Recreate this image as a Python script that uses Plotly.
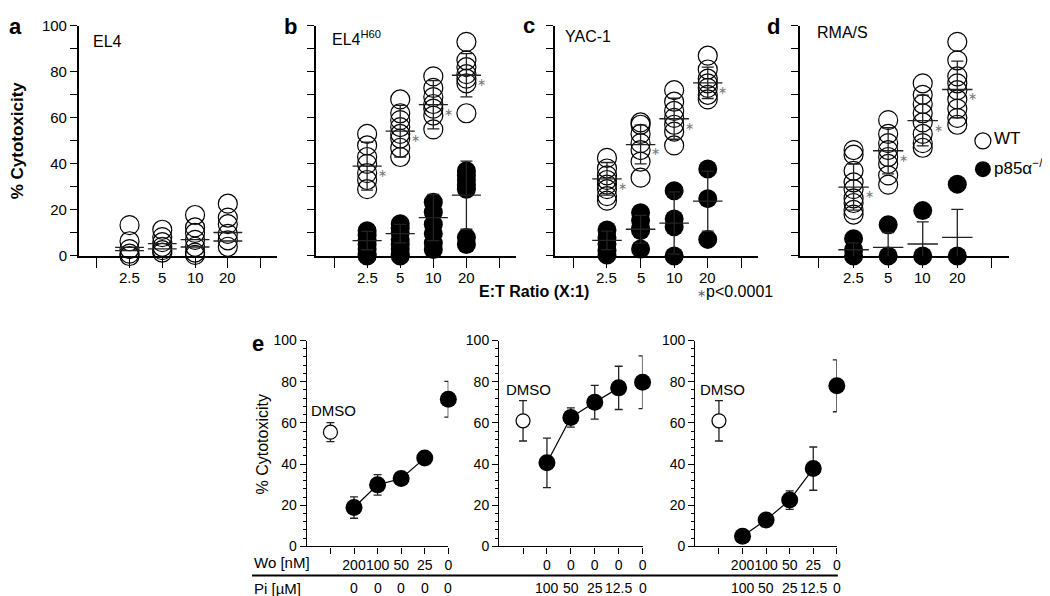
import plotly.graph_objects as go

FONT = "Liberation Sans, Arial, sans-serif"
W, H = 1050, 596

ratio_labels = ["2.5", "5", "10", "20"]

# a: EL4 (WT points; KO sits underneath, only its mean lines show)
el4_wt = [[13.4, 6.4, 3.0, 1.0, 0.0], [11.4, 8.2, 6.0, 4.0, 2.5, 1.5],
          [17.8, 12.4, 10.0, 7.0, 4.0, 1.5, 0.5], [22.7, 16.7, 13.8, 9.6, 6.8, 4.0]]
el4_wt_mean = [3.7, 5.4, 7.1, 10.2]
el4_ko_mean = [2.3, 3.1, 3.9, 6.5]

# b: EL4 H60
h60_wt = [[53, 48, 43, 40, 36, 33, 29], [68, 62, 59, 56, 53, 51, 47, 43],
          [78, 73, 69, 66, 64, 61, 55], [93, 85, 82, 79, 77, 75, 62]]
h60_wt_mean = [39.0, 54.2, 65.7, 78.5]
h60_wt_sd = [10.4, 11.2, 10.5, 9.4]
h60_ko = [[11, 9, 7, 5, 3, 1, 0], [14, 12, 10, 7, 5, 3, 1, 0],
          [23.3, 19, 13.8, 9.7, 5.6, 2.8], [37, 35, 33, 31, 29, 8, 5]]
h60_ko_mean = [6.7, 9.7, 16.7, 26.4]
h60_ko_sd = [4.0, 4.0, 10.0, 14.8]

# c: YAC-1
yac_wt = [[42.6, 38, 35, 33, 31, 29, 26, 24], [58, 57, 53, 49, 46, 41, 34],
          [72, 67, 63, 60, 57, 54, 48], [87, 81, 77, 75, 73, 70, 68]]
yac_wt_mean = [33.5, 48.4, 59.6, 75.2]
yac_wt_sd = [7.1, 8.4, 8.9, 6.8]
yac_ko = [[11.3, 7.9, 5.2, 2.4, 0.4], [18.8, 15.4, 12, 11, 3],
          [28.3, 16.1, 12.7, 0], [37.8, 24.9, 7.2]]
yac_ko_mean = [6.8, 11.6, 14.3, 23.8]
yac_ko_sd = [4.0, 6.0, 13.5, 13.0]

# d: RMA/S
rma_wt = [[46, 44, 37, 32, 29, 25, 23, 20, 18], [59, 53, 49, 46, 43, 40, 35, 31],
          [75, 70, 66, 62, 58, 53, 49, 47], [93, 85, 78, 75, 72, 68, 64, 60, 57]]
rma_wt_mean = [29.9, 45.7, 58.8, 72.3]
rma_wt_sd = [10.0, 10.0, 11.0, 12.3]
rma_ko = [[7.5, 2.7, 0], [13.6, 0], [19.7, 0], [31.2, 0]]
rma_ko_mean = [2.7, 3.7, 5.2, 8.1]
rma_ko_sd = [3.0, 6.5, 9.6, 12.1]

# e: inhibitor titrations
wo_labels = [["", "200", "100", "50", "25", "0"],
             ["", "0", "0", "0", "0", "0"],
             ["", "200", "100", "50", "25", "0"]]
pi_labels = [["0", "0", "0", "0", "0"],
             ["100", "50", "25", "12.5", "0"],
             ["100", "50", "25", "12.5", "0"]]
dmso_mean = [55.5, 61.0, 61.0]
dmso_sd = [4.6, 9.8, 9.8]
inhib_mean = [[18.9, 29.9, 33.0, 42.9, 71.5],
              [40.6, 62.6, 70.0, 77.0, 79.7],
              [5.0, 12.9, 22.5, 37.8, 78.0]]
inhib_sd = [[5.2, 5.0, 1.5, 1.5, 8.7],
            [12.0, 4.7, 8.2, 10.5, 12.8],
            [1.5, 1.5, 4.5, 10.5, 12.6]]


def px(x0, x1):
    return [x0 / W, x1 / W]


def py(top, bottom):
    return [1 - bottom / H, 1 - top / H]


top_dom_x = [px(71, 270), px(309, 510), px(549, 753), px(795, 1005)]
top_dom_y = py(9, 246)
bot_dom_x = [px(300, 442), px(493, 637), px(690, 832)]
bot_dom_y = py(333, 545)

fig = go.Figure()
layout = dict(width=W, height=H, margin=dict(l=0, r=0, t=0, b=0),
              plot_bgcolor="white", paper_bgcolor="white", showlegend=False,
              font=dict(family=FONT, color="black"))
annots = []


def label(text, x, y, size=15, xanchor="center", **kw):
    # text placed by pixel position on the page
    annots.append(dict(x=x / W, y=1 - y / H, xref="paper", yref="paper", text=text,
                       xanchor=xanchor, yanchor="middle", showarrow=False,
                       font=dict(size=size), **kw))


def ax_name(i, kind):
    return kind + ("" if i == 1 else str(i))


def mean_lines(means, half=0.44):
    xs, ys = [], []
    for k, m in enumerate(means):
        xs += [k + 1 - half, k + 1 + half, None]
        ys += [m, m, None]
    return xs, ys


def points(groups):
    xs, ys = [], []
    for k, g in enumerate(groups):
        xs += [k + 1] * len(g)
        ys += g
    return xs, ys


def add_top(i, wt, wt_mean, wt_sd, ko, ko_mean, ko_sd, star):
    xa, ya = "x" + ("" if i == 1 else str(i)), "y" + ("" if i == 1 else str(i))
    if ko:
        x, y = points(ko)
        fig.add_trace(go.Scatter(x=x, y=y, mode="markers", xaxis=xa, yaxis=ya, cliponaxis=False,
                                 marker=dict(size=19, color="black", line=dict(width=0))))
    x, y = points(wt)
    fig.add_trace(go.Scatter(x=x, y=y, mode="markers", xaxis=xa, yaxis=ya, cliponaxis=False,
                             marker=dict(size=19, color="rgba(0,0,0,0)",
                                         line=dict(width=1.2, color="black"))))
    for m, sd in ((wt_mean, wt_sd), (ko_mean, ko_sd)):
        if sd:
            fig.add_trace(go.Scatter(x=[1, 2, 3, 4], y=m, mode="markers", xaxis=xa, yaxis=ya,
                                     cliponaxis=False, marker=dict(size=1, color="rgba(0,0,0,0)"),
                                     error_y=dict(type="data", array=sd, color="#222",
                                                  thickness=1.3, width=6)))
        x, y = mean_lines(m)
        fig.add_trace(go.Scatter(x=x, y=y, mode="lines", xaxis=xa, yaxis=ya, cliponaxis=False,
                                 line=dict(color="#222", width=1.3)))
    if star:
        for k, m in enumerate(wt_mean):
            annots.append(dict(x=k + 1.45, y=m - 3, xref=xa, yref=ya, text="\u2217",
                               showarrow=False, font=dict(size=11, color="#777")))
    # category labels under the axis
    for k, t in enumerate(ratio_labels):
        annots.append(dict(x=k + 1, y=1 - 268 / H, xref=xa, yref="paper", text=t,
                           xanchor="center", yanchor="middle", showarrow=False,
                           font=dict(size=15)))
    layout[ax_name(i, "xaxis")] = dict(
        domain=top_dom_x[i - 1], anchor=ya, range=[-0.55, 5.5],
        tickvals=[0, 1, 2, 3, 4, 5], showticklabels=False,
        ticks="outside", ticklen=10, tickwidth=1.3, tickcolor="black",
        showline=True, linecolor="black", linewidth=1.5, showgrid=False, zeroline=False)
    layout[ax_name(i, "yaxis")] = dict(
        domain=top_dom_y, anchor=xa, range=[0, 100], tickvals=[0, 20, 40, 60, 80, 100],
        showticklabels=(i == 1), ticks="outside", ticklen=7, tickwidth=1.3, tickcolor="black",
        minor=dict(dtick=10, ticks="outside", ticklen=7, tickwidth=1.3, tickcolor="black"),
        showline=True, linecolor="black", linewidth=1.5, showgrid=False, zeroline=False,
        tickfont=dict(size=15))


add_top(1, el4_wt, el4_wt_mean, None, None, el4_ko_mean, None, False)
add_top(2, h60_wt, h60_wt_mean, h60_wt_sd, h60_ko, h60_ko_mean, h60_ko_sd, True)
add_top(3, yac_wt, yac_wt_mean, yac_wt_sd, yac_ko, yac_ko_mean, yac_ko_sd, True)
add_top(4, rma_wt, rma_wt_mean, rma_wt_sd, rma_ko, rma_ko_mean, rma_ko_sd, True)

# legend inside panel d
fig.add_trace(go.Scatter(x=[4.74], y=[50], mode="markers", xaxis="x4", yaxis="y4", cliponaxis=False,
                         marker=dict(size=16, color="rgba(0,0,0,0)", line=dict(width=1.2, color="black"))))
fig.add_trace(go.Scatter(x=[4.74], y=[37.7], mode="markers", xaxis="x4", yaxis="y4", cliponaxis=False,
                         marker=dict(size=16, color="black")))
label("WT", 988, 125, size=17, xanchor="left")
label("p85\u03b1<sup>\u2212/\u2212</sup>", 988, 154, size=17, xanchor="left")

# bottom panels
for j in range(3):
    i = j + 5
    xa, ya = "x" + str(i), "y" + str(i)
    fig.add_trace(go.Scatter(x=[2, 3, 4, 5], y=inhib_mean[j][:4], mode="lines", xaxis=xa, yaxis=ya,
                             line=dict(color="black", width=1.2)))
    fig.add_trace(go.Scatter(x=[1], y=[dmso_mean[j]], mode="markers", xaxis=xa, yaxis=ya,
                             cliponaxis=False,
                             marker=dict(size=14, color="white", line=dict(width=1.2, color="black")),
                             error_y=dict(type="data", array=[dmso_sd[j]], color="#222",
                                          thickness=1.3, width=4)))
    fig.add_trace(go.Scatter(x=[2, 3, 4, 5, 6], y=inhib_mean[j], mode="markers", xaxis=xa, yaxis=ya,
                             cliponaxis=False, marker=dict(size=17, color="black"),
                             error_y=dict(type="data", array=inhib_sd[j], color="#222",
                                          thickness=1.3, width=4)))
    layout[ax_name(i, "xaxis")] = dict(
        domain=bot_dom_x[j], anchor=ya, range=[0, 6], tickvals=[1, 2, 3, 4, 5, 6],
        ticktext=wo_labels[j], tickangle=0, ticks="outside", ticklen=6, tickwidth=1.2,
        tickcolor="black", showline=True, linecolor="black", linewidth=1.3,
        showgrid=False, zeroline=False, tickfont=dict(size=14))
    layout[ax_name(i, "yaxis")] = dict(
        domain=bot_dom_y, anchor=xa, range=[0, 100], tickvals=[0, 20, 40, 60, 80, 100],
        ticks="outside", ticklen=6, tickwidth=1.2, tickcolor="black",
        minor=dict(dtick=4, ticks="outside", ticklen=3, tickwidth=1, tickcolor="black"),
        showline=True, linecolor="black", linewidth=1.3, showgrid=False, zeroline=False,
        tickfont=dict(size=14))
    for k, t in enumerate(pi_labels[j]):
        annots.append(dict(x=k + 2, y=1 - 588 / H, xref=xa, yref="paper", text=t,
                           xanchor="center", yanchor="middle",
                           showarrow=False, font=dict(size=14)))

# panel letters and titles
for t, x, y in (("a", 8, 10), ("b", 284, 10), ("c", 523, 9), ("d", 768, 10), ("e", 251, 336)):
    label("<b>%s</b>" % t, x, y, size=22)
for t, x, y in (("EL4", 83, 25), ("EL4<sup>H60</sup>", 323, 22), ("YAC-1", 557, 20), ("RMA/S", 810, 16)):
    label(t, x, y, size=16, xanchor="left")
for x, y in ((302, 405), (498, 383), (693, 383)):
    label("DMSO", x, y, size=15, xanchor="left")

label("<b>% Cytotoxicity</b>", 9, 127, size=17, textangle=-90)
label("% Cytotoxicity", 255, 440, size=16, textangle=-90)
label("<b>E:T Ratio (X:1)</b>", 528, 283, size=16)
label("<span style='color:#666;font-size:11px'>\u2217</span>p<0.0001", 690, 283, size=16,
      xanchor="left")
label("Wo [nM]", 245, 562, size=15, xanchor="left")
label("Pi [\u00b5M]", 245, 588, size=15, xanchor="left")

layout["annotations"] = annots
layout["shapes"] = [dict(type="line", xref="paper", yref="paper", x0=245 / W, x1=833 / W,
                         y0=1 - 575 / H, y1=1 - 575 / H, line=dict(color="black", width=2))]
fig.update_layout(**layout)
fig.write_html("out.html")
